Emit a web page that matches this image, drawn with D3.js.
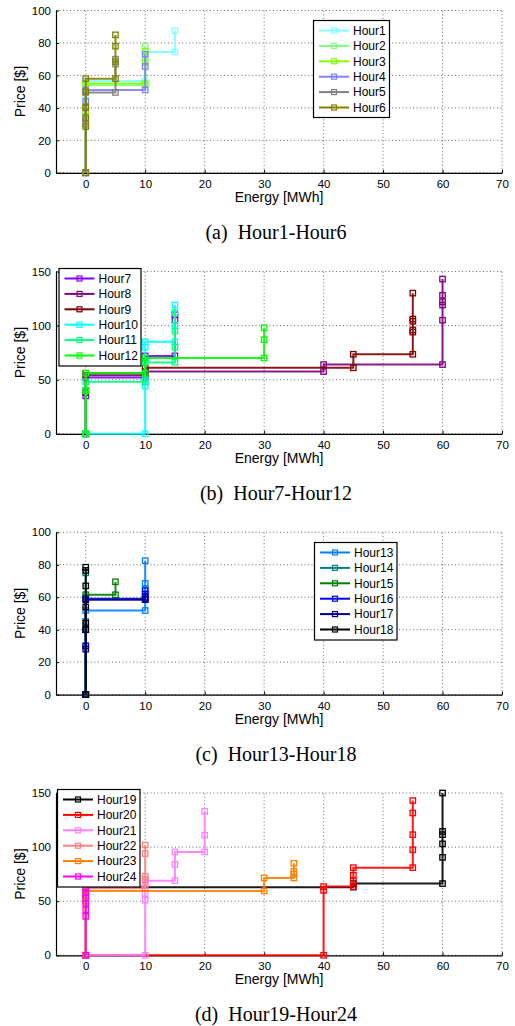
<!DOCTYPE html>
<html><head><meta charset="utf-8">
<script src="https://cdn.jsdelivr.net/npm/d3@7"></script>
<style>
body{margin:0;background:#fff;}
svg{display:block;}
</style></head>
<body>
<svg id="chart" width="515" height="1026"></svg>
<script>
// ---- data: each hour is a step curve of [energy MWh, price $] points ----
const hour1 = [[0,0],[0,30],[0,45],[0,56.5],[10,56.5],[10,74.5],[15,74.5],[15,87.5]];
const hour2 = [[0,0],[0,35],[0,54],[10,54],[10,70],[10,78]];
const hour3 = [[0,0],[0,38],[0,55],[10,55],[10,68],[10,75]];
const hour4 = [[0,0],[0,33],[0,44],[0,51],[10,51],[10,65.5],[10,73]];
const hour5 = [[0,0],[0,30],[0,40],[0,49.5],[5,49.5],[5,67],[5,70]];
const hour6 = [[0,0],[0,28.5],[0,34],[0,40.5],[0,50],[0,58],[5,58],[5,68.5],[5,78],[5,85]];

const hour7 = [[0,0],[0,35],[0,52],[10,52],[10,72],[15,72],[15,105],[15,110]];
const hour8 = [[0,0],[0,38],[0,54],[10,54],[10,57.5],[40,57.5],[40,64],[60,64],[60,105],[60,119],[60,122],[60,128],[60,143]];
const hour9 = [[0,0],[0,40],[0,56],[10,56],[10,61],[45,61],[45,73.5],[55,73.5],[55,94],[55,96],[55,104],[55,106],[55,130]];
const hour10 = [[0,0],[10,0],[10,44],[10,50],[10,80],[10,85],[15,85],[15,100],[15,119]];
const hour11 = [[0,0],[0,40],[0,48],[10,48],[10,66],[15,66],[15,80],[15,95],[15,112]];
const hour12 = [[0,0],[0,40],[0,56],[10,56],[10,70],[30,70],[30,87],[30,98]];

const hour13 = [[0,0],[0,30],[0,51.8],[10,51.8],[10,60],[10,65],[10,68.5],[10,82.5]];
const hour14 = [[0,0],[0,40],[0,60],[0,75]];
const hour15 = [[0,0],[0,45],[0,61.5],[5,61.5],[5,69.5]];
const hour16 = [[0,0],[0,30],[0,59],[10,59],[10,62],[10,64]];
const hour17 = [[0,0],[0,28],[0,40],[0,58.5],[10,58.5],[10,60]];
const hour18 = [[0,0],[0,40],[0,44],[0,54],[0,67],[0,76.5],[0,78.5]];

const hour19 = [[0,0],[0,55],[0,63],[45,63],[45,66.3],[60,66.3],[60,90.5],[60,103],[60,111.5],[60,114.5],[60,150]];
const hour20 = [[0,0],[40,0],[40,60],[40,63.5],[45,63.5],[45,69],[45,74],[45,81],[55,81],[55,97.5],[55,111.5],[55,131.5],[55,143]];
const hour21 = [[0,0],[10,0],[10,51],[10,57],[10,66],[10,69],[15,69],[15,84],[15,95.5],[20,95.5],[20,111],[20,133]];
const hour22 = [[0,0],[0,50],[0,62],[10,62],[10,70],[10,73],[10,94],[10,102]];
const hour23 = [[0,0],[0,50],[0,59.5],[30,59.5],[30,71.5],[35,71.5],[35,75],[35,77.5],[35,85]];
const hour24 = [[0,0],[0,36],[0,42],[0,48],[0,53],[0,58],[0,62]];

const hourNames = ["Hour1","Hour2","Hour3","Hour4","Hour5","Hour6","Hour7","Hour8","Hour9","Hour10","Hour11","Hour12",
  "Hour13","Hour14","Hour15","Hour16","Hour17","Hour18","Hour19","Hour20","Hour21","Hour22","Hour23","Hour24"];
const hourColors = ["#80ffff","#80ff80","#80ff00","#8080ff","#808080","#808000",
  "#8000ff","#800080","#800000","#00ffff","#00ff80","#00ff00",
  "#0080ff","#008080","#008000","#0000ff","#000080","#000000",
  "#000000","#ff0000","#ff80ff","#ff8080","#ff8000","#ff00ff"];
const hourData = [hour1,hour2,hour3,hour4,hour5,hour6,hour7,hour8,hour9,hour10,hour11,hour12,
  hour13,hour14,hour15,hour16,hour17,hour18,hour19,hour20,hour21,hour22,hour23,hour24];

const xTicks = [0,10,20,30,40,50,60,70];
const yTicksA = [0,20,40,60,80,100];
const yTicksB = [0,50,100,150];
const captions = ["(a)  Hour1-Hour6","(b)  Hour7-Hour12","(c)  Hour13-Hour18","(d)  Hour19-Hour24"];
const yMaxes = [100,150,100,150];

// ---- layout ----
const svg = d3.select("#chart");
const left = 56, right = 502, plotH = 162.3;
const tops = [10.5, 271.5, 532.3, 793];
const legendPos = [[313.5,20.5,76,97],[59,268.5,82,97.5],[314.5,542.5,82.5,97.5],[57.5,789.5,82.5,97.5]];
const fontSans = "Liberation Sans, Arial, Helvetica, sans-serif";

for (let p = 0; p < 4; p++) {
  const top = tops[p];
  const x = d3.scaleLinear().domain([-5,70]).range([left,right]);
  const y = d3.scaleLinear().domain([0,yMaxes[p]]).range([top+plotH, top]);
  const yTicks = yMaxes[p] === 100 ? yTicksA : yTicksB;
  const g = svg.append("g");

  // grid
  g.selectAll(".vg").data(xTicks).enter().append("line")
    .attr("x1", d=>x(d)).attr("x2", d=>x(d)).attr("y1", y(0)).attr("y2", y(yMaxes[p]))
    .attr("stroke","#444").attr("stroke-width",0.8).attr("stroke-dasharray","1,2.5");
  g.selectAll(".hg").data(yTicks).enter().append("line")
    .attr("x1", x(-5)).attr("x2", x(70)).attr("y1", d=>y(d)).attr("y2", d=>y(d))
    .attr("stroke","#444").attr("stroke-width",0.8).attr("stroke-dasharray","1,2.5");

  // axes
  const xAxis = d3.axisBottom(x).tickValues(xTicks).tickSizeInner(-3).tickSizeOuter(0).tickPadding(7);
  const ax = g.append("g").attr("transform",`translate(0,${y(0)})`).call(xAxis);
  const yAxis = d3.axisLeft(y).tickValues(yTicks).tickSizeInner(-3).tickSizeOuter(0).tickPadding(5);
  const ay = g.append("g").attr("transform",`translate(${x(-5)},0)`).call(yAxis);
  [ax, ay].forEach(a => {
    a.select(".domain").attr("stroke","#000").attr("stroke-width",1.2);
    a.selectAll(".tick line").attr("stroke","#000");
    a.selectAll("text").attr("font-family",fontSans).attr("font-size",11.5).attr("fill","#000");
  });

  // axis labels
  g.append("text").attr("x",(left+right)/2).attr("y",top+plotH+29)
    .attr("text-anchor","middle").attr("font-family",fontSans).attr("font-size",14).text("Energy [MWh]");
  g.append("text").attr("transform",`translate(25,${top+plotH/2}) rotate(-90)`)
    .attr("text-anchor","middle").attr("font-family",fontSans).attr("font-size",14).text("Price [$]");
  g.append("text").attr("x",(left+right)/2 - 3).attr("y",top+plotH+66)
    .attr("text-anchor","middle").attr("font-family","Liberation Serif, Times New Roman, serif")
    .attr("font-size",20).attr("xml:space","preserve").text(captions[p]);

  // series
  const line = d3.line().x(d=>x(d[0])).y(d=>y(d[1]));
  for (let k = 0; k < 6; k++) {
    const i = p*6 + k;
    const s = g.append("g");
    s.append("path").attr("d", line(hourData[i])).attr("fill","none")
      .attr("stroke", hourColors[i]).attr("stroke-width",2).attr("stroke-opacity",0.9);
    s.selectAll("rect").data(hourData[i]).enter().append("rect")
      .attr("x", d=>x(d[0])-2.7).attr("y", d=>y(d[1])-2.7).attr("width",5.4).attr("height",5.4)
      .attr("fill","none").attr("stroke", hourColors[i]).attr("stroke-width",1.3);
  }

  // legend
  const [lx, ly, lw, lh] = legendPos[p];
  const lg = g.append("g");
  lg.append("rect").attr("x",lx).attr("y",ly).attr("width",lw).attr("height",lh)
    .attr("fill","#fff").attr("stroke","#000").attr("stroke-width",1.2);
  for (let k = 0; k < 6; k++) {
    const i = p*6 + k;
    const ry = ly + 10 + k*15.4;
    lg.append("line").attr("x1",lx+5.5).attr("x2",lx+35.5).attr("y1",ry).attr("y2",ry)
      .attr("stroke",hourColors[i]).attr("stroke-width",2);
    lg.append("rect").attr("x",lx+20.5-2.5).attr("y",ry-2.5).attr("width",5).attr("height",5)
      .attr("fill","none").attr("stroke",hourColors[i]).attr("stroke-width",1.2);
    lg.append("text").attr("x",lx+39.5).attr("y",ry+4.2).attr("font-family",fontSans)
      .attr("font-size",12).text(hourNames[i]);
  }
}
</script>
</body></html>
